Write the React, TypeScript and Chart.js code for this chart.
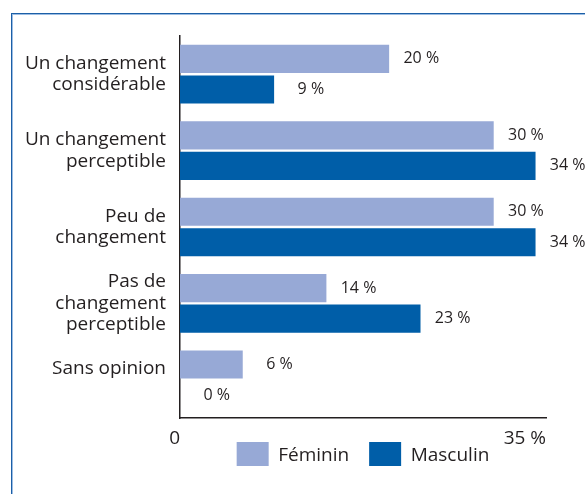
import React, { useEffect, useRef } from "react";
import { Chart, registerables } from "chart.js";

Chart.register(...registerables);

const categories: string[][] = [
  ["Un changement", "considérable"],
  ["Un changement", "perceptible"],
  ["Peu de", "changement"],
  ["Pas de", "changement", "perceptible"],
  ["Sans opinion", ""],
];
const feminin = [20, 30, 30, 14, 6];
const masculin = [9, 34, 34, 23, 0];
const seriesNames = ["Féminin", "Masculin"];
const xTickValues = [0, 35];

const TEXT = "#231f20";
const FONT = "'Open Sans', sans-serif";

const valueLabels = {
  id: "valueLabels",
  afterDatasetsDraw(chart: any) {
    const ctx = chart.ctx;
    ctx.save();
    ctx.fillStyle = TEXT;
    ctx.font = `16px ${FONT}`;
    ctx.textAlign = "right";
    ctx.textBaseline = "middle";
    chart.data.datasets.forEach((ds: any, di: number) => {
      const meta = chart.getDatasetMeta(di);
      meta.data.forEach((el: any, i: number) => {
        ctx.fillText(`${ds.data[i]} %`, el.x + 50, el.y);
      });
    });
    ctx.restore();
  },
};

const legendShift = {
  id: "legendShift",
  afterLayout(chart: any) {
    const lg = chart.legend;
    if (lg) {
      lg.top -= 28;
      lg.bottom -= 28;
    }
  },
};

export default function App() {
  const ref = useRef<HTMLCanvasElement>(null);
  useEffect(() => {
    if (!ref.current) return;
    const chart = new Chart(ref.current, {
      type: "bar",
      data: {
        labels: categories,
        datasets: [
          {
            label: seriesNames[0],
            data: feminin,
            backgroundColor: "#97a9d6",
            categoryPercentage: 0.8,
            barPercentage: 0.92,
          },
          {
            label: seriesNames[1],
            data: masculin,
            backgroundColor: "#005ea8",
            categoryPercentage: 0.8,
            barPercentage: 0.92,
          },
        ],
      },
      options: {
        indexAxis: "y",
        animation: false,
        responsive: false,
        layout: { padding: { top: 36, right: 39, bottom: 0, left: 0 } },
        scales: {
          x: {
            min: 0,
            max: 35,
            afterBuildTicks: (scale: any) => {
              scale.ticks = xTickValues.map((v) => ({ value: v }));
            },
            afterFit: (scale: any) => {
              scale.height = 32;
            },
            grid: { display: false, drawTicks: false },
            border: { display: true, color: TEXT, width: 1.5 },
            ticks: {
              align: "end",
              padding: 9,
              color: TEXT,
              autoSkip: false,
              maxRotation: 0,
              font: { family: FONT, size: 19 },
              callback: (v: any) => (v === 0 ? "0" : `${v} %`),
            },
          },
          y: {
            afterFit: (scale: any) => {
              scale.width = 180;
            },
            grid: { display: false, drawTicks: false },
            border: { display: true, color: TEXT, width: 1.5 },
            ticks: {
              padding: 14,
              color: TEXT,
              font: { family: FONT, size: 19, lineHeight: 1.13 },
            },
          },
        },
        plugins: {
          legend: {
            position: "bottom",
            fullSize: false,
            maxHeight: 44,
            labels: {
              boxWidth: 32,
              boxHeight: 27,
              padding: 20,
              color: TEXT,
              font: { family: FONT, size: 19 },
            },
          },
          tooltip: { enabled: false },
        },
      } as any,
      plugins: [valueLabels, legendShift],
    });
    return () => chart.destroy();
  }, []);

  return (
    <div style={{ position: "absolute", left: 0, top: 0, width: 585, height: 494 }}>
      <div
        style={{
          position: "absolute",
          left: 11,
          top: 13,
          width: 574,
          height: 481,
          boxSizing: "border-box",
          borderTop: "1px solid #1c5fa7",
          borderLeft: "1px solid #1c5fa7",
          boxShadow: "inset 1px 1px 0 #9cbde3",
        }}
      />
      <canvas
        ref={ref}
        width={585}
        height={494}
        style={{ position: "absolute", left: 0, top: 0, width: 585, height: 494 }}
      />
    </div>
  );
}
